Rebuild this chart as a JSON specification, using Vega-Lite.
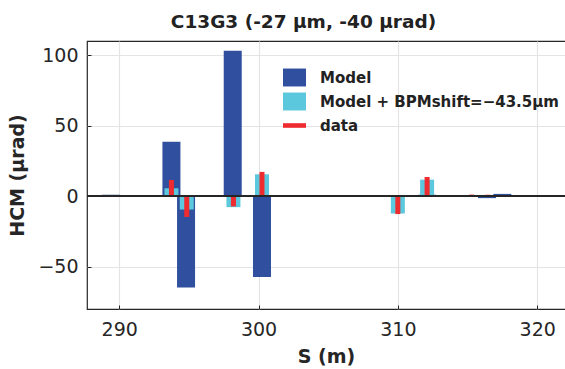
{
  "$schema": "https://vega.github.io/schema/vega-lite/v6.json",
  "width": 485,
  "height": 268,
  "autosize": {"type": "none"},
  "padding": {"left": 87, "top": 41, "right": 0, "bottom": 60},
  "background": "white",
  "title": {"text": "C13G3 (-27 μm, -40 μrad)", "fontSize": 18.5, "font": "DejaVu Sans", "fontWeight": "bold", "color": "#222222", "offset": 10, "dx": -26},
  "data": {"values": [
    {"s": 289.4, "series": "Model", "value": 1.0},
    {"s": 293.75, "series": "Model", "value": 38.5},
    {"s": 294.8, "series": "Model", "value": -64.8},
    {"s": 298.15, "series": "Model", "value": 103},
    {"s": 300.25, "series": "Model", "value": -57.3},
    {"s": 310.0, "series": "Model", "value": -0.3},
    {"s": 312.1, "series": "Model", "value": 1.0},
    {"s": 316.4, "series": "Model", "value": -1.4},
    {"s": 317.5, "series": "Model", "value": 1.6},
    {"s": 289.4, "series": "Model + BPMshift=−43.5μm", "value": 0.5},
    {"s": 292.6, "series": "Model + BPMshift=−43.5μm", "value": 0.4},
    {"s": 293.75, "series": "Model + BPMshift=−43.5μm", "value": 5.6},
    {"s": 294.85, "series": "Model + BPMshift=−43.5μm", "value": -9.5},
    {"s": 298.2, "series": "Model + BPMshift=−43.5μm", "value": -7.8},
    {"s": 300.25, "series": "Model + BPMshift=−43.5μm", "value": 15.5},
    {"s": 310.0, "series": "Model + BPMshift=−43.5μm", "value": -12.3},
    {"s": 312.1, "series": "Model + BPMshift=−43.5μm", "value": 11.7},
    {"s": 315.3, "series": "Model + BPMshift=−43.5μm", "value": 0.3},
    {"s": 316.4, "series": "Model + BPMshift=−43.5μm", "value": -0.4},
    {"s": 317.5, "series": "Model + BPMshift=−43.5μm", "value": 0.7},
    {"s": 320.75, "series": "Model + BPMshift=−43.5μm", "value": 0.3},
    {"s": 293.75, "series": "data", "value": 11.5},
    {"s": 294.85, "series": "data", "value": -14.8},
    {"s": 298.2, "series": "data", "value": -7.3},
    {"s": 300.25, "series": "data", "value": 17.2},
    {"s": 310.0, "series": "data", "value": -12.7},
    {"s": 312.1, "series": "data", "value": 13.6},
    {"s": 315.3, "series": "data", "value": 1.1},
    {"s": 316.45, "series": "data", "value": 1.0}
  ]},
  "encoding": {
    "x": {"field": "s", "type": "quantitative", "title": "S (m)",
      "scale": {"domain": [288.05, 322.14], "nice": false, "zero": false},
      "axis": {"values": [290, 300, 310, 320], "format": "d", "titleX": 239}},
    "y": {"field": "value", "type": "quantitative", "title": "HCM (μrad)",
      "scale": {"domain": [-80, 110], "nice": false},
      "axis": {"values": [-50, 0, 50, 100]}},
    "y2": {"datum": 0},
    "color": {"field": "series", "type": "nominal", "title": null,
      "scale": {"domain": ["Model", "Model + BPMshift=−43.5μm", "data"], "range": ["#304F9E", "#5CC8DD", "#EE2B2E"]},
      "legend": {"orient": "none", "legendX": 196, "legendY": 25, "padding": 0,
        "symbolType": "M-1,-0.78H1V0.78H-1Z", "symbolSize": 529, "symbolStrokeWidth": 0,
        "labelFontSize": 15, "labelFont": "DejaVu Sans", "labelFontWeight": "bold", "labelColor": "#222222",
        "labelLimit": 400, "rowPadding": 3, "labelOffset": 14, "symbolOpacity": 1,
        "encode": {"symbols": {"update": {"shape": {"signal": "datum.label === 'data' ? 'M-1,-0.2H1V0.2H-1Z' : 'M-1,-0.78H1V0.78H-1Z'"}}}}}}
  },
  "layer": [
    {"transform": [{"filter": "datum.series === 'Model'"}], "mark": {"type": "bar", "width": 18, "opacity": 1}},
    {"transform": [{"filter": "datum.series !== 'Model' && datum.series !== 'data'"}], "mark": {"type": "bar", "width": 14, "opacity": 1}},
    {"transform": [{"filter": "datum.series === 'data'"}], "mark": {"type": "bar", "width": 5, "opacity": 1}},
    {"mark": {"type": "rule", "color": "#262626", "strokeWidth": 1.2}, "encoding": {"y": {"datum": 0}, "x": null, "y2": null, "color": null}}
  ],
  "config": {
    "view": {"stroke": "#262626", "strokeWidth": 1.2},
    "axis": {
      "domain": false, "grid": true, "gridColor": "#e4e4e4", "gridWidth": 1.2,
      "tickColor": "#262626", "tickSize": -4, "ticks": true,
      "labelFont": "DejaVu Sans", "labelFontSize": 19, "labelColor": "#262626",
      "titleFont": "DejaVu Sans", "titleFontSize": 19, "titleFontWeight": "bold", "titleColor": "#262626"
    },
    "axisX": {"labelPadding": 15, "titlePadding": 8},
    "axisY": {"labelPadding": 13, "titlePadding": 10}
  }
}
